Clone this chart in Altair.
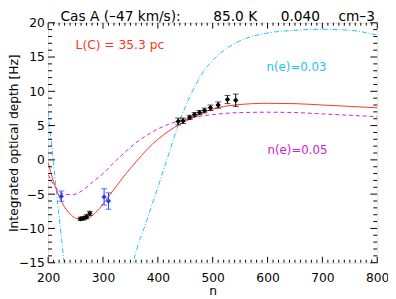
import altair as alt
import pandas as pd

# ---- model curves ----
red_n = [200, 210, 220, 230, 240, 250, 262, 275, 290, 305, 320, 340, 360, 380, 400,
         420, 440, 460, 480, 500, 540, 600, 650, 700, 750, 800]
red_v = [-0.4, -3.2, -5.3, -6.9, -7.9, -8.5, -8.7, -8.4, -7.4, -5.9, -4.3, -2.2, -0.3,
         1.5, 3.0, 4.2, 5.2, 6.0, 6.8, 7.4, 8.0, 8.25, 8.2, 8.0, 7.8, 7.6]

mag_n = [200, 210, 220, 230, 243, 260, 280, 300, 320, 340, 360, 380, 400, 420, 440,
         460, 480, 500, 550, 600, 650, 700, 750, 800]
mag_v = [-2.2, -3.6, -4.6, -5.0, -5.1, -4.6, -3.3, -2.0, -0.4, 1.1, 2.5, 3.6, 4.5,
         5.2, 5.7, 6.1, 6.4, 6.6, 6.9, 6.95, 6.9, 6.7, 6.5, 6.3]

cyan_n = [200, 210, 220, 228, 236, 260, 300, 340, 355, 380, 400, 420, 440, 460, 480,
          500, 530, 560, 600, 650, 700, 750, 800]
cyan_v = [7.0, -0.7, -8.3, -14.2, -20.0, -28.0, -30.0, -21.0, -15.0, -8.8, -4.0, 0.9,
          5.7, 9.5, 12.5, 14.5, 16.5, 17.7, 18.5, 18.9, 19.05, 18.9, 18.2]

# ---- measured points ----
blk_n = [259, 265, 270, 276, 437, 446, 458, 467, 476, 485, 496, 510, 527, 542]
blk_v = [-8.6, -8.5, -8.3, -7.8, 5.6, 5.7, 6.2, 6.6, 6.9, 7.2, 7.6, 8.0, 8.8, 8.7]
blk_e = [0.25, 0.25, 0.3, 0.3, 0.5, 0.4, 0.3, 0.3, 0.3, 0.35, 0.4, 0.45, 0.6, 0.9]

blu_n = [224, 302, 310]
blu_v = [-5.3, -5.4, -6.0]
blu_e = [0.75, 1.2, 1.2]

# ---- title pieces ----
title_parts = ["Cas A (\u201347 km/s):", "85.0 K", "0.040", "cm\u20133"]

# ---- axis ticks ----
x_major = list(range(200, 801, 100))
x_minor = [v for v in range(200, 801, 10) if v % 100]
y_major = list(range(-15, 21, 5))
y_minor = [v for v in range(-15, 21) if v % 5]

W, H = 336, 245
FONT = "DejaVu Sans"
RED = "#ff3320"
CYAN = "#1fc3ee"
MAG = "#cc22cc"
BLUE = "#2040ff"

xs = alt.Scale(domain=[200, 800], nice=False, zero=False)
ys = alt.Scale(domain=[-15, 20], nice=False, zero=False)
xaxis = alt.Axis(values=x_major, ticks=False, tickSize=0, domain=False, grid=False,
                 labelFlush=False, labelOverlap=False,
                 labelPadding=9, labelFontSize=12.5, labelFont=FONT, labelColor="black",
                 title="n", titleFontSize=12.5, titleFont=FONT, titleFontWeight="normal",
                 titlePadding=1, titleColor="black")
yaxis = alt.Axis(values=y_major, ticks=False, tickSize=0, domain=False, grid=False,
                 labelOverlap=False,
                 labelPadding=4, labelFontSize=12.5, labelFont=FONT, labelColor="black",
                 title="Integrated optical depth [Hz]", titleFontSize=12.5, titleFont=FONT,
                 titleFontWeight="normal", titleColor="black",
                 titleX=-31, titleY=H / 2, titleAngle=270, titleAlign="center",
                 titleBaseline="alphabetic")


def X(f):
    return alt.X(f, type="quantitative", scale=xs, axis=xaxis)


def Y(f):
    return alt.Y(f, type="quantitative", scale=ys, axis=yaxis)


red_df = pd.DataFrame({"n": red_n, "v": red_v})
mag_df = pd.DataFrame({"n": mag_n, "v": mag_v})
cyan_df = pd.DataFrame({"n": cyan_n, "v": cyan_v})
blk_df = pd.DataFrame({"n": blk_n, "v": blk_v, "e": blk_e})
blk_df["lo"] = blk_df.v - blk_df.e
blk_df["hi"] = blk_df.v + blk_df.e
blu_df = pd.DataFrame({"n": blu_n, "v": blu_v, "e": blu_e})
blu_df["lo"] = blu_df.v - blu_df.e
blu_df["hi"] = blu_df.v + blu_df.e

layers = []

cyan = alt.Chart(cyan_df).mark_line(color=CYAN, strokeWidth=1, strokeDash=[5, 2, 1, 2],
                                    interpolate="monotone", clip=True).encode(x=X("n"), y=Y("v"))
mag = alt.Chart(mag_df).mark_line(color=MAG, strokeWidth=1, strokeDash=[4, 3],
                                  interpolate="monotone", clip=True).encode(x=X("n"), y=Y("v"))
red = alt.Chart(red_df).mark_line(color=RED, strokeWidth=1,
                                  interpolate="monotone", clip=True).encode(x=X("n"), y=Y("v"))
layers += [cyan, mag, red]


def points(df, color):
    bar = alt.Chart(df).mark_rule(color=color, strokeWidth=1).encode(x=X("n"), y=Y("lo"), y2="hi")
    cap_lo = alt.Chart(df).mark_tick(color=color, orient="horizontal", size=6, thickness=1).encode(x=X("n"), y=Y("lo"))
    cap_hi = alt.Chart(df).mark_tick(color=color, orient="horizontal", size=6, thickness=1).encode(x=X("n"), y=Y("hi"))
    pt = alt.Chart(df).mark_point(shape="diamond", filled=True, color=color, size=30, opacity=1).encode(x=X("n"), y=Y("v"))
    return [bar, cap_lo, cap_hi, pt]


layers += points(blk_df, "black")
layers += points(blu_df, BLUE)


def xticks(vals, ln):
    d = pd.DataFrame({"t": vals})
    b = alt.Chart(d).mark_rule(color="black", strokeWidth=1).encode(x=X("t"), y=alt.value(H), y2=alt.value(H - ln))
    t = alt.Chart(d).mark_rule(color="black", strokeWidth=1).encode(x=X("t"), y=alt.value(0), y2=alt.value(ln))
    return [b, t]


def yticks(vals, ln):
    d = pd.DataFrame({"t": vals})
    l = alt.Chart(d).mark_rule(color="black", strokeWidth=1).encode(y=Y("t"), x=alt.value(0), x2=alt.value(ln))
    r = alt.Chart(d).mark_rule(color="black", strokeWidth=1).encode(y=Y("t"), x=alt.value(W), x2=alt.value(W - ln))
    return [l, r]


layers += xticks(x_major, 6) + xticks(x_minor, 3) + yticks(y_major, 7) + yticks(y_minor, 4)


def label(text, color, px, py, fs, align="left", baseline="middle"):
    return alt.Chart(pd.DataFrame({"t": [text]})).mark_text(
        color=color, fontSize=fs, font=FONT, align=align, baseline=baseline
    ).encode(text="t:N", x=alt.value(px), y=alt.value(py))


layers += [label("L(C) = 35.3 pc", RED, 28, 23, 12.5),
           label("n(e)=0.03", CYAN, 223, 45, 12),
           label("n(e)=0.05", MAG, 224, 130, 12)]

# title pieces, centred where the reference places them
for txt, cx in zip(title_parts, [74, 191, 257.5, 315]):
    layers.append(label(txt, "black", cx, -1.5, 14, align="center", baseline="alphabetic"))

chart = alt.layer(*layers).properties(
    width=W, height=H,
    autosize=alt.AutoSizeParams(type="none"),
    padding={"left": 41, "top": 12, "right": 11, "bottom": 34},
).configure_view(stroke="black", strokeWidth=1).configure(background="white")

chart.save("out.html", embed_options={"renderer": "svg", "actions": False})
